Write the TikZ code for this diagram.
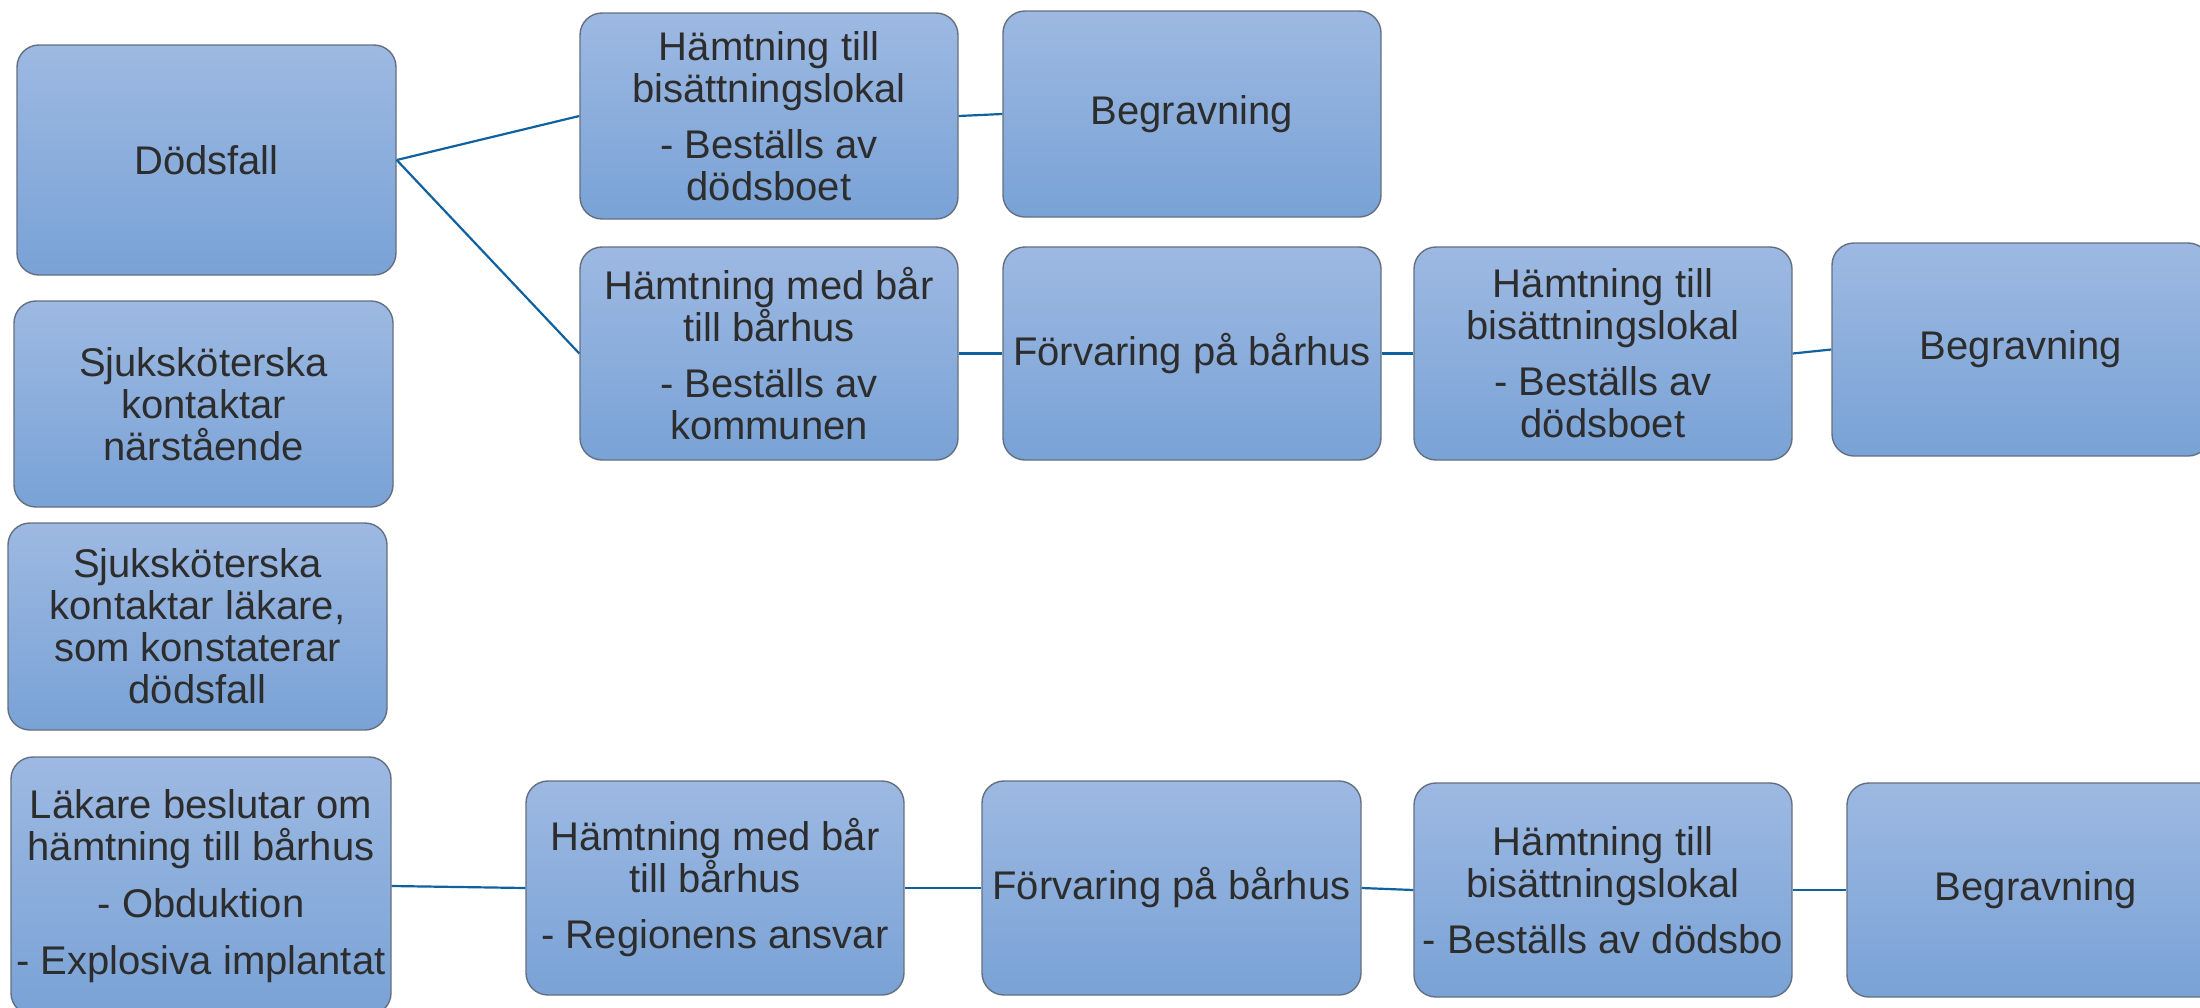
\documentclass[tikz,border=0pt]{standalone}
\usepackage{fontspec}
\setmainfont{Liberation Sans}
\definecolor{boxtop}{RGB}{157,185,226}
\definecolor{boxbot}{RGB}{121,162,214}
\definecolor{boxline}{RGB}{100,112,128}
\definecolor{txt}{RGB}{45,45,45}
\definecolor{connc}{RGB}{16,97,160}
\begin{document}
\begin{tikzpicture}[x=0.5pt,y=-0.5pt,
  bx/.style={draw=boxline, line width=0.7pt, rounded corners=11pt,
    top color=boxtop, bottom color=boxbot, text=txt, align=center,
    font=\fontsize{20}{21}\selectfont, inner sep=0pt},
  conn/.style={draw=connc, line width=1.1pt}]
\clip (0,0) rectangle (2200,1007);
\fill[white] (0,0) rectangle (2200,1007);

% left column
\node[bx, minimum width=189.5pt, minimum height=115pt] (d) at (206.5,160) {Dödsfall};
\node[bx, minimum width=189.5pt, minimum height=103pt] (s1) at (203.5,404) {Sjuksköterska\\kontaktar\\närstående};
\node[bx, minimum width=189.5pt, minimum height=103.5pt] (s2) at (197.5,626.5) {Sjuksköterska\\kontaktar läkare,\\som konstaterar\\dödsfall};
\node[bx, minimum width=190pt, minimum height=129pt] (l) at (201,886) {Läkare beslutar om\\hämtning till bårhus\\[7.5pt]- Obduktion\\[7.5pt]- Explosiva implantat};

% top row
\node[bx, minimum width=189pt, minimum height=103pt] (h1) at (769,116) {Hämtning till\\bisättningslokal\\[7pt]- Beställs av\\dödsboet};
\node[bx, minimum width=189pt, minimum height=103pt] (b1) at (1192,114) {Begravning};

% middle row
\node[bx, minimum width=189pt, minimum height=106.5pt] (h2) at (769,353.5) {Hämtning med bår\\till bårhus\\[7pt]- Beställs av\\kommunen};
\node[bx, minimum width=189pt, minimum height=106.5pt] (f2) at (1192,353.5) {Förvaring på bårhus};
\node[bx, minimum width=189pt, minimum height=106.5pt] (t2) at (1603,353.5) {Hämtning till\\bisättningslokal\\[7pt]- Beställs av\\dödsboet};
\node[bx, minimum width=189pt, minimum height=106.5pt] (b2) at (2021,349.5) {Begravning};

% bottom row
\node[bx, minimum width=189pt, minimum height=107pt] (h3) at (715,888) {Hämtning med bår\\till bårhus\\[7pt]- Regionens ansvar};
\node[bx, minimum width=189.5pt, minimum height=107pt] (f3) at (1171.5,888) {Förvaring på bårhus};
\node[bx, minimum width=189pt, minimum height=107pt] (t3) at (1603,890) {Hämtning till\\bisättningslokal\\[7pt]- Beställs av dödsbo};
\node[bx, minimum width=189pt, minimum height=107pt] (b3) at (2036,890) {Begravning};

% connectors
\draw[conn] (d.east) -- (h1.west);
\draw[conn] (d.east) -- (h2.west);
\draw[conn] (h1.east) -- (b1.west);
\draw[conn] (h2.east) -- (f2.west);
\draw[conn] (f2.east) -- (t2.west);
\draw[conn] (t2.east) -- (b2.west);
\draw[conn] (l.east) -- (h3.west);
\draw[conn] (h3.east) -- (f3.west);
\draw[conn] (f3.east) -- (t3.west);
\draw[conn] (t3.east) -- (b3.west);
\end{tikzpicture}
\end{document}
